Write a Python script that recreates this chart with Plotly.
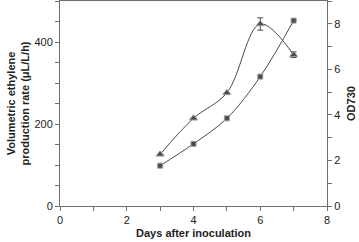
import plotly.graph_objects as go

days = [3, 4, 5, 6, 7]
ethylene_rate = [126, 214, 276, 444, 369]
ethylene_err = [0, 0, 0, 15, 7]
od730 = [1.77, 2.73, 3.85, 5.68, 8.14]

axis_col = "#6e6e6e"
mark_col = "#4a4a4a"
font_fam = "Liberation Sans, Arial, sans-serif"

fig = go.Figure()
fig.add_trace(go.Scatter(
    x=days, y=ethylene_rate, mode="lines+markers", line_shape="spline",
    line=dict(color=mark_col, width=1),
    marker=dict(symbol="triangle-up", size=7, color=mark_col, line=dict(color="#9a9a9a", width=1)),
    error_y=dict(type="data", array=ethylene_err, color=mark_col, thickness=1, width=3),
    yaxis="y", showlegend=False))
fig.add_trace(go.Scatter(
    x=days, y=od730, mode="lines+markers", line_shape="spline",
    line=dict(color=mark_col, width=1),
    marker=dict(symbol="square", size=5, color=mark_col, line=dict(color="#9a9a9a", width=1)),
    yaxis="y2", showlegend=False))

fig.update_layout(
    width=359, height=242,
    margin=dict(l=60, r=32, t=1, b=36),
    paper_bgcolor="white", plot_bgcolor="white",
    font=dict(family=font_fam, size=11, color="#222"),
    xaxis=dict(range=[0, 8], dtick=2, tick0=0, showgrid=False, zeroline=False,
               showline=True, linecolor=axis_col, linewidth=1, mirror=True,
               ticks="outside", ticklen=4, tickcolor=axis_col, automargin=False,
               minor=dict(dtick=1, ticks="outside", ticklen=4, tickcolor=axis_col),
               title=dict(text="<b>Days after inoculation</b>", standoff=4, font=dict(size=11))),
    yaxis=dict(range=[0, 500], dtick=200, tick0=0, showgrid=False, zeroline=False,
               showline=True, linecolor=axis_col, linewidth=1, automargin=False,
               ticks="outside", ticklen=4, tickcolor=axis_col,
               minor=dict(dtick=50, ticks="outside", ticklen=4, tickcolor=axis_col),
               title=dict(text="<b>Volumetric ethylene<br>production rate (μL/L/h)</b>", standoff=2, font=dict(size=11))),
    yaxis2=dict(range=[0, 9], dtick=2, tick0=0, overlaying="y", side="right",
                showgrid=False, zeroline=False, automargin=False,
                showline=True, linecolor=axis_col, linewidth=1,
                ticks="outside", ticklen=4, tickcolor=axis_col,
                minor=dict(dtick=1, ticks="outside", ticklen=4, tickcolor=axis_col),
                title=dict(text="<b>OD730</b>", standoff=7, font=dict(size=11))),
)

fig.write_html("out.html", config={"displayModeBar": False},
               post_script="document.body.style.margin='0';document.body.style.overflow='hidden';")
